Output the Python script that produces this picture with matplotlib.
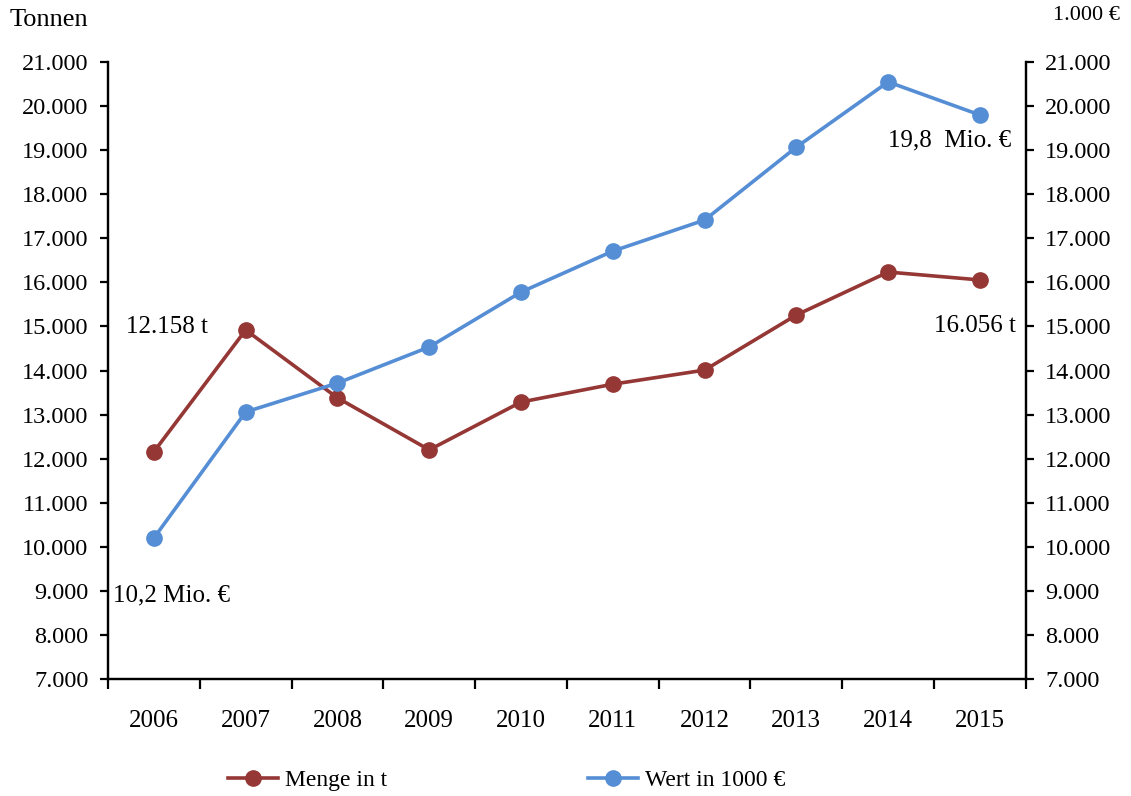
import matplotlib.pyplot as plt
from matplotlib.ticker import FuncFormatter, FixedLocator

plt.rcParams["font.family"] = ["Liberation Serif", "DejaVu Serif"]

# Daten
jahre = ["2006", "2007", "2008", "2009", "2010", "2011", "2012", "2013", "2014", "2015"]
menge_t = [12158, 14920, 13380, 12200, 13285, 13690, 14010, 15260, 16235, 16056]
wert_1000eur = [10200, 13060, 13715, 14535, 15780, 16710, 17415, 19070, 20550, 19800]
y_ticks = list(range(7000, 21001, 1000))

rot = "#953735"
blau = "#558ED5"


def tausender(v, pos=None):
    return f"{int(v):,}".replace(",", ".")


fig = plt.figure(figsize=(11.31, 7.96), dpi=100)
ax = fig.add_axes([0.0955, 0.147, 0.8115, 0.775])
ax2 = ax.twinx()

x = list(range(len(jahre)))
l1, = ax.plot(x, menge_t, color=rot, lw=2.6, marker="o", ms=11, label="Menge in t")
l2, = ax2.plot(x, wert_1000eur, color=blau, lw=2.6, marker="o", ms=11, label="Wert in 1000 €")

for a in (ax, ax2):
    a.set_ylim(7000, 21000)
    a.set_yticks(y_ticks)
    a.yaxis.set_major_formatter(FuncFormatter(tausender))
    a.set_xlim(-0.5, len(jahre) - 0.5)
    for s in a.spines.values():
        s.set_linewidth(1.6)
    a.spines["top"].set_visible(False)
ax.tick_params(axis="y", direction="out", length=6, width=1.6, labelsize=17.5, pad=8)
ax2.tick_params(axis="y", direction="out", length=6, width=1.6, labelsize=17.5, pad=8)

# Kategorien: Striche zwischen den Jahren, Beschriftung in der Mitte
ax.xaxis.set_major_locator(FixedLocator([i - 0.5 for i in range(len(jahre) + 1)]))
ax.xaxis.set_minor_locator(FixedLocator(x))
ax.set_xticklabels([])
ax.set_xticklabels(jahre, minor=True)
ax.tick_params(axis="x", which="major", direction="out", length=7, width=1.6)
ax.tick_params(axis="x", which="minor", length=0, labelsize=18, pad=22)

# Datenbeschriftungen
ax.text(0.59, 14990, f"{tausender(menge_t[0])} t", ha="right", va="center", fontsize=18)
ax.text(9.39, 15010, f"{tausender(menge_t[-1])} t", ha="right", va="center", fontsize=18)
ax2.text(-0.45, 8906, f"{wert_1000eur[0] / 1000:.1f}".replace(".", ",") + " Mio. €",
         ha="left", va="center", fontsize=18)
ax2.text(9.34, 19231, f"{wert_1000eur[-1] / 1000:.1f}".replace(".", ",") + "  Mio. €",
         ha="right", va="center", fontsize=18)

fig.text(10 / 1131, 1 - 20 / 796, "Tonnen", ha="left", va="center", fontsize=19)
fig.text(1120 / 1131, 1 - 16 / 796, "1.000 €", ha="right", va="center", fontsize=16)

fig.legend([l1, l2], ["Menge in t", "Wert in 1000 €"], ncol=2, loc="center",
           bbox_to_anchor=(0.448, 0.02), frameon=False, fontsize=17,
           handlelength=2.1, handletextpad=0.3, columnspacing=8.5)

fig.savefig("out.png", dpi=100)
